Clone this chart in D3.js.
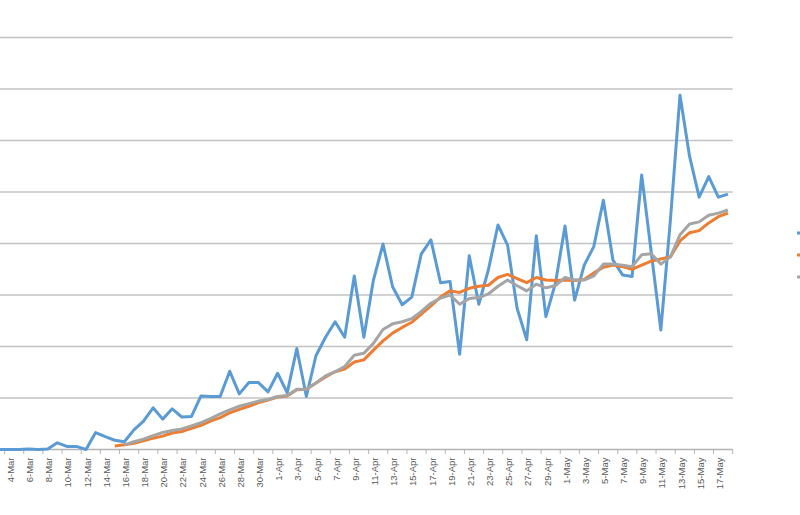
<!DOCTYPE html>
<html>
<head>
<meta charset="utf-8">
<script src="https://cdn.jsdelivr.net/npm/d3@7"></script>
<style>
html,body{margin:0;padding:0;background:#fff;}
svg{display:block;}
</style>
</head>
<body>
<svg id="chart" width="800" height="515"></svg>
<script>
// Dates 3-Mar .. 18-May
const dates = [
"3-Mar","4-Mar","5-Mar","6-Mar","7-Mar","8-Mar","9-Mar","10-Mar","11-Mar","12-Mar",
"13-Mar","14-Mar","15-Mar","16-Mar","17-Mar","18-Mar","19-Mar","20-Mar","21-Mar","22-Mar",
"23-Mar","24-Mar","25-Mar","26-Mar","27-Mar","28-Mar","29-Mar","30-Mar","31-Mar","1-Apr",
"2-Apr","3-Apr","4-Apr","5-Apr","6-Apr","7-Apr","8-Apr","9-Apr","10-Apr","11-Apr",
"12-Apr","13-Apr","14-Apr","15-Apr","16-Apr","17-Apr","18-Apr","19-Apr","20-Apr","21-Apr",
"22-Apr","23-Apr","24-Apr","25-Apr","26-Apr","27-Apr","28-Apr","29-Apr","30-Apr","1-May",
"2-May","3-May","4-May","5-May","6-May","7-May","8-May","9-May","10-May","11-May",
"12-May","13-May","14-May","15-May","16-May","17-May","18-May"];

// Series 1 (blue): daily values
const daily = [
0,0,0,1,0,1,13,6,6,0,
33,25,18,15,38,55,81,59,79,63,
64,104,103,103,152,108,130,130,112,148,
110,196,103,182,218,248,218,337,218,329,
399,316,281,296,380,407,324,326,185,376,
282,349,436,397,274,213,415,258,323,434,
290,358,394,484,368,339,336,533,383,232,
446,688,569,490,530,490,496];

// Series 2 (orange): starts at 15-Mar
const avgA = [
null,null,null,null,null,null,null,null,null,null,
null,null,7,9,12,17,22,26,32,35,
41,47,55,62,71,78,84,91,96,102,
104,116,117,129,141,151,156,170,174,193,
211,226,237,247,263,279,296,308,305,313,
317,319,334,340,332,324,334,329,328,329,
328,330,343,354,358,355,350,358,366,370,
374,405,421,425,440,452,459];

// Series 3 (gray): starts at 16-Mar
const avgB = [
null,null,null,null,null,null,null,null,null,null,
null,null,null,9,15,20,27,33,37,40,
46,52,60,69,77,84,89,94,97,103,
105,117,117,129,143,151,161,183,187,206,
233,244,248,254,268,284,294,300,282,293,
295,302,317,329,318,308,321,314,318,334,
329,329,337,360,360,358,355,378,380,360,
374,417,438,442,455,459,465];

const yTicks = [0,100,200,300,400,500,600,700,800];
const labelDates = dates.filter((d,i)=> i % 2 === 1);

const colors = ["#5B9BD5","#ED7D31","#A5A5A5"];

const svg = d3.select("#chart");

const x = d3.scalePoint().domain(dates).range([-0.2, 727.9]);
const step = x.step();
const plotLeft = x(dates[0]) - step/2;
const plotRight = x(dates[dates.length-1]) + step/2;
const y = d3.scaleLinear().domain([0,800]).range([449.5, 37.5]);

// gridlines
svg.append("g").selectAll("line").data(yTicks).join("line")
  .attr("x1", plotLeft).attr("x2", plotRight)
  .attr("y1", d=>y(d)).attr("y2", d=>y(d))
  .attr("stroke", d=> d===0 ? "#b4b4b4" : "#c3c3c3")
  .attr("stroke-width", 1.3);

// x tick marks between category pairs
const tickPos = dates.map((d,i)=>i).filter(i=>i%2===1).map(i=>x(dates[i]) - step/2);
tickPos.push(plotRight);
svg.append("g").selectAll("line").data(tickPos).join("line")
  .attr("x1", d=>d).attr("x2", d=>d)
  .attr("y1", y(0)).attr("y2", y(0)+4.5)
  .attr("stroke", "#b4b4b4").attr("stroke-width", 1);

// x labels
svg.append("g").selectAll("text").data(labelDates).join("text")
  .attr("transform", d=>`translate(${x(d)+1.3},${y(0)+8}) rotate(-90)`)
  .attr("text-anchor","end")
  .attr("dy","0.35em")
  .attr("font-family","'Liberation Sans', Arial, sans-serif")
  .attr("font-size","9.5px")
  .attr("fill","#595959")
  .text(d=>d);

// lines
const series = [daily, avgA, avgB];
const line = d3.line()
  .defined(d=>d.v !== null)
  .x(d=>x(d.date))
  .y(d=>y(d.v));

series.forEach((s,k)=>{
  const pts = dates.map((d,i)=>({date:d, v:s[i]}));
  svg.append("path")
    .datum(pts)
    .attr("fill","none")
    .attr("stroke", colors[k])
    .attr("stroke-width", 3)
    .attr("stroke-linejoin","round")
    .attr("stroke-linecap","butt")
    .attr("d", line);
});

// legend (mostly cut off at right edge)
const legendY = [233, 255, 277];
svg.append("g").selectAll("line").data(colors).join("line")
  .attr("x1", 797).attr("x2", 830)
  .attr("y1", (d,i)=>legendY[i]).attr("y2", (d,i)=>legendY[i])
  .attr("stroke", d=>d).attr("stroke-width", 3);
</script>
</body>
</html>
